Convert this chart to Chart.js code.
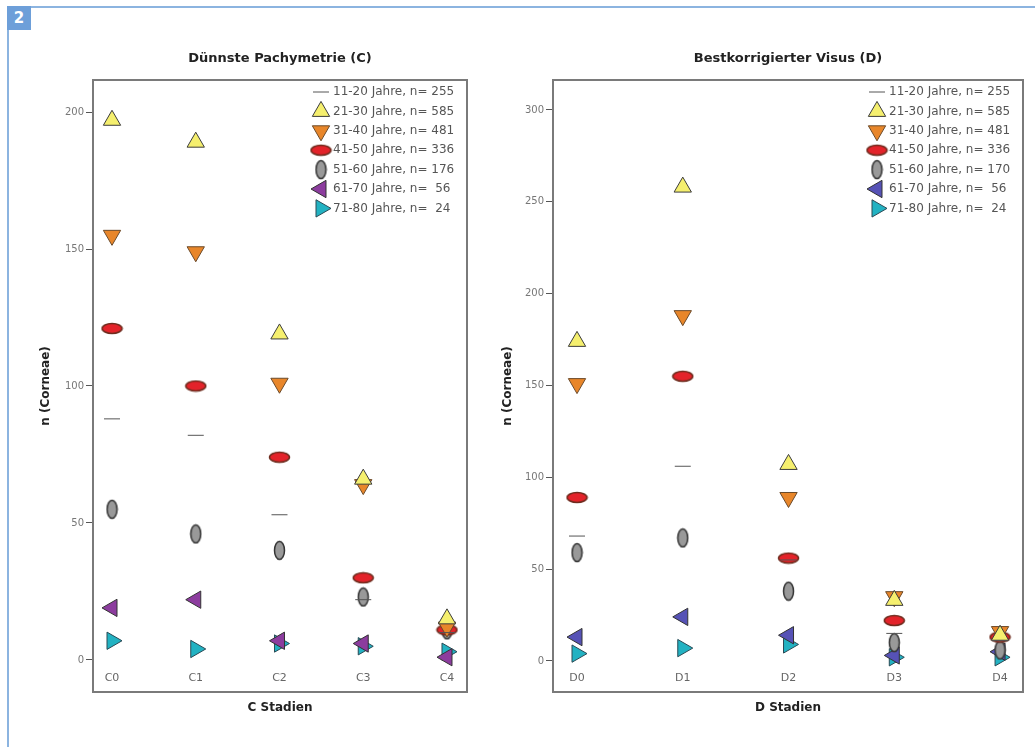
<!DOCTYPE html>
<html lang="de">
<head>
<meta charset="UTF-8">
<title>Hornhaut-Stadien nach Altersgruppen</title>
<script src="https://cdn.jsdelivr.net/npm/chart.js"></script>
<style>
    body { margin: 0; background: #fff; font-family: "DejaVu Sans", Arial, sans-serif; }
    .frame { position: absolute; left: 7px; top: 6px; width: 1040px; height: 760px;
             border-top: 2px solid #8cb4e0; border-left: 2px solid #8cb4e0; }
    .badge { position: absolute; left: 7px; top: 6px; width: 24px; height: 24px; background: #6d9fd9;
             color: #fff; font-weight: bold; font-size: 15px; line-height: 24px; text-align: center; }
    .chart { position: absolute; top: 0; }
    #chartC { left: 0; }
    #chartD { left: 480px; }
</style>
</head>
<body>
<div class="frame"></div>
<div class="badge">2</div>
<canvas id="chartC" class="chart" width="480" height="747"></canvas>
<canvas id="chartD" class="chart" width="555" height="747"></canvas>

<script>
    // Altersgruppen
    const ageGroups = ['11-20 Jahre', '21-30 Jahre', '31-40 Jahre', '41-50 Jahre', '51-60 Jahre', '61-70 Jahre', '71-80 Jahre'];
    const nC = ['255', '585', '481', '336', '176', ' 56', ' 24'];
    const nD = ['255', '585', '481', '336', '170', ' 56', ' 24'];

    // Dünnste Pachymetrie (C)
    const stagesC = ['C0', 'C1', 'C2', 'C3', 'C4'];
    const c_11_20 = [88, 82, 53, 22, 10];
    const c_21_30 = [197, 189, 119, 66, 15];
    const c_31_40 = [155, 149, 101, 64, 12];
    const c_41_50 = [121, 100, 74, 30, 11];
    const c_51_60 = [55, 46, 40, 23, 11];
    const c_61_70 = [19, 22, 7, 6, 1];
    const c_71_80 = [7, 4, 6, 5, 3];
    const yTicksC = [0, 50, 100, 150, 200];

    // Bestkorrigierter Visus (D)
    const stagesD = ['D0', 'D1', 'D2', 'D3', 'D4'];
    const d_11_20 = [68, 106, 55, 15, 11];
    const d_21_30 = [174, 258, 107, 33, 14];
    const d_31_40 = [151, 188, 89, 35, 16];
    const d_41_50 = [89, 155, 56, 22, 13];
    const d_51_60 = [59, 67, 38, 10, 6];
    const d_61_70 = [13, 24, 14, 3, 5];
    const d_71_80 = [4, 7, 9, 2, 2];
    const yTicksD = [0, 50, 100, 150, 200, 250, 300];

    const FONT = '"DejaVu Sans", Arial, sans-serif';

    // Ellipsen-Marker
    function ellipse(w, h, fill, stroke) {
        const c = document.createElement('canvas');
        c.width = w + 3; c.height = h + 3;
        const g = c.getContext('2d');
        g.beginPath();
        g.ellipse(c.width / 2, c.height / 2, w / 2, h / 2, 0, 0, Math.PI * 2);
        g.fillStyle = fill; g.fill();
        g.lineWidth = 1.5; g.strokeStyle = stroke; g.stroke();
        return c;
    }
    const redEllipse = ellipse(20, 10, '#e3232a', '#6e2c1e');
    const grayEllipse = ellipse(10, 18, '#999999', '#333333');

    function markers(violet) {
        return [
            { pointStyle: 'line', rot: 0, r: 8, bg: '#555', bd: '#555', bw: 1 },
            { pointStyle: 'triangle', rot: 0, r: 10, bg: '#f5ef6e', bd: '#3c3c3c', bw: 1 },
            { pointStyle: 'triangle', rot: 180, r: 10, bg: '#e8862a', bd: '#6b4a2a', bw: 1 },
            { pointStyle: redEllipse, rot: 0, r: 10, bg: '#e3232a', bd: '#6e2c1e', bw: 1 },
            { pointStyle: grayEllipse, rot: 0, r: 10, bg: '#999', bd: '#333', bw: 1 },
            { pointStyle: 'triangle', rot: 270, r: 10, bg: violet, bd: '#333', bw: 1 },
            { pointStyle: 'triangle', rot: 90, r: 10, bg: '#22b2c2', bd: '#2a4a55', bw: 1 }
        ];
    }

    // Rahmen um die Plotfläche
    const plotBox = {
        id: 'plotBox',
        beforeDatasetsDraw(chart) {
            const a = chart.chartArea, ctx = chart.ctx;
            ctx.save();
            ctx.strokeStyle = '#7a7a7a';
            ctx.lineWidth = 2;
            ctx.strokeRect(a.left, a.top, a.right - a.left, a.bottom - a.top);
            ctx.restore();
        }
    };

    // Legende oben rechts in der Plotfläche
    const innerLegend = {
        id: 'innerLegend',
        afterDatasetsDraw(chart, args, opts) {
            const a = chart.chartArea, ctx = chart.ctx;
            const x0 = a.right - 134;
            ctx.save();
            chart.data.datasets.forEach((ds, i) => {
                const y = a.top + 12 + i * 19.4;
                ctx.fillStyle = ds.pointBackgroundColor;
                ctx.strokeStyle = ds.pointBorderColor;
                ctx.lineWidth = ds.pointBorderWidth;
                Chart.helpers.drawPoint(ctx, {
                    pointStyle: ds.pointStyle, rotation: ds.pointRotation,
                    radius: ds.pointRadius, borderWidth: ds.pointBorderWidth
                }, x0 - 12, y);
                ctx.fillStyle = '#555';
                ctx.font = '12px ' + FONT;
                ctx.textBaseline = 'middle';
                ctx.textAlign = 'left';
                ctx.fillText(ds.label + ', n= ' + opts.n[i], x0, y);
            });
            ctx.restore();
        }
    };

    function makeChart(id, cfg) {
        const mk = markers(cfg.violet);
        const datasets = cfg.series.map((vals, i) => ({
            label: ageGroups[i],
            data: vals.map((v, k) => ({ x: k, y: v })),
            showLine: false,
            pointStyle: mk[i].pointStyle,
            pointRotation: mk[i].rot,
            pointRadius: mk[i].r,
            pointHoverRadius: mk[i].r,
            pointBackgroundColor: mk[i].bg,
            pointBorderColor: mk[i].bd,
            pointBorderWidth: mk[i].bw
        }));

        new Chart(document.getElementById(id), {
            type: 'scatter',
            data: { datasets },
            options: {
                responsive: false,
                animation: false,
                events: [],
                layout: { padding: { top: 0, right: cfg.rightPad, bottom: 0, left: 0 } },
                plugins: {
                    legend: { display: false },
                    tooltip: { enabled: false },
                    title: {
                        display: true, text: cfg.title, fullSize: false,
                        font: { family: FONT, size: 13, weight: 'bold' }, color: '#222',
                        padding: { top: 50.7, bottom: 13.7 }
                    },
                    innerLegend: { n: cfg.n }
                },
                scales: {
                    x: {
                        type: 'linear', min: cfg.xRange[0], max: cfg.xRange[1],
                        grid: { display: false, drawTicks: false },
                        border: { display: false },
                        afterBuildTicks: s => { s.ticks = cfg.stages.map((_, k) => ({ value: k })); },
                        afterFit: s => { s.height = 55; },
                        ticks: {
                            callback: v => cfg.stages[v], mirror: true, padding: 7.5,
                            autoSkip: false, maxRotation: 0,
                            font: { family: FONT, size: 11 }, color: '#666'
                        },
                        title: {
                            display: true, text: cfg.xTitle,
                            font: { family: FONT, size: 12, weight: 'bold' }, color: '#222',
                            padding: { top: 0, bottom: 32 }
                        }
                    },
                    y: {
                        min: cfg.yRange[0], max: cfg.yRange[1],
                        afterBuildTicks: s => { s.ticks = cfg.yTicks.map(v => ({ value: v })); },
                        afterFit: s => { s.width = cfg.yWidth; },
                        grid: { drawOnChartArea: false, drawTicks: true, tickLength: 7, color: '#555' },
                        border: { display: true, color: '#777', width: 2 },
                        ticks: { padding: 2, font: { family: FONT, size: 10 }, color: '#777' },
                        title: {
                            display: true, text: 'n (Corneae)',
                            font: { family: FONT, size: 12, weight: 'bold' }, color: '#222',
                            padding: { top: cfg.yTitlePad, bottom: 0 }
                        }
                    }
                }
            },
            plugins: [plotBox, innerLegend]
        });
    }

    makeChart('chartC', {
        title: 'Dünnste Pachymetrie (C)', xTitle: 'C Stadien', stages: stagesC,
        series: [c_11_20, c_21_30, c_31_40, c_41_50, c_51_60, c_61_70, c_71_80],
        n: nC, yTicks: yTicksC, yRange: [-11.7, 211.7], xRange: [-0.227, 4.239],
        violet: '#8c3c9e', yWidth: 93, rightPad: 13, yTitlePad: 39
    });

    makeChart('chartD', {
        title: 'Bestkorrigierter Visus (D)', xTitle: 'D Stadien', stages: stagesD,
        series: [d_11_20, d_21_30, d_31_40, d_41_50, d_51_60, d_61_70, d_71_80],
        n: nD, yTicks: yTicksD, yRange: [-16.9, 316.3], xRange: [-0.227, 4.217],
        violet: '#5652b6', yWidth: 73, rightPad: 12, yTitlePad: 21
    });
</script>
</body>
</html>
